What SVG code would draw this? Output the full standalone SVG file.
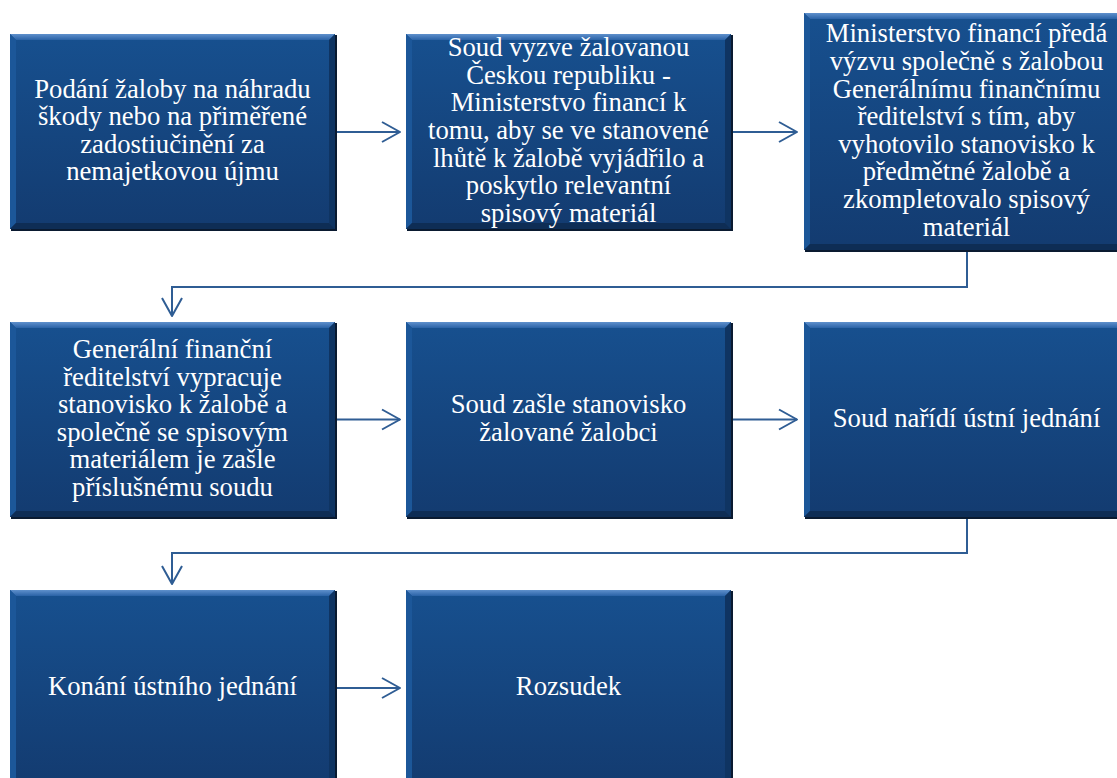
<svg xmlns="http://www.w3.org/2000/svg" width="1117" height="778" viewBox="0 0 1117 778">
<style>
.t{font-family:"Liberation Serif","Times New Roman",serif;font-size:26.7px;fill:#ffffff;text-anchor:middle}
.body{fill:url(#gBody)}
.shadow{fill:#0a1a30}
.bt{fill:url(#gTop)}
.bl{fill:#1c5799}
.br{fill:#0f3462}
.bb{fill:#0e2d55}
.conn{fill:none;stroke:#2f5d94;stroke-width:2;marker-end:url(#arr)}
</style>
<defs>
<linearGradient id="gBody" x1="0" y1="0" x2="0" y2="1">
<stop offset="0" stop-color="#17508f"/>
<stop offset="1" stop-color="#133b70"/>
</linearGradient>
<linearGradient id="gTop" x1="0" y1="0" x2="0" y2="1">
<stop offset="0" stop-color="#5f90cc"/>
<stop offset="1" stop-color="#2a62a6"/>
</linearGradient>
<marker id="arr" markerUnits="userSpaceOnUse" markerWidth="24" markerHeight="26" viewBox="-2 -2 24 26" refX="18" refY="10" orient="auto">
<path d="M0,0 L18,10 L0,20" fill="none" stroke="#2f5d94" stroke-width="2" stroke-linejoin="round"/>
</marker>
</defs>
<rect width="1117" height="778" fill="#ffffff"/>

<g id="connectors">
<path class="conn" d="M335,132 H400"/>
<path class="conn" d="M731,132 H797"/>
<path class="conn" d="M967,250 V287 H172 V316"/>
<path class="conn" d="M335,419.5 H400"/>
<path class="conn" d="M731,419.5 H797"/>
<path class="conn" d="M967,517 V553 H172 V584"/>
<path class="conn" d="M335,688 H400"/>
</g>

<g id="n1">
<rect class="shadow" x="11" y="35" width="326" height="196"/>
<rect class="body" x="10" y="34" width="325" height="195"/>
<polygon class="bt" points="10,34 335,34 329,40 16,40"/>
<polygon class="bl" points="10,34 16,40 16,223 10,229"/>
<polygon class="br" points="335,34 335,229 329,223 329,40"/>
<polygon class="bb" points="10,229 335,229 329,223 16,223"/>
<text class="t"><tspan x="172.5" y="97.6">Podání žaloby na náhradu</tspan><tspan x="172.5" y="125.2">škody nebo na přiměřené</tspan><tspan x="172.5" y="152.8">zadostiučinění za</tspan><tspan x="172.5" y="180.4">nemajetkovou újmu</tspan></text>
</g>

<g id="n2">
<rect class="shadow" x="407" y="35" width="326" height="196"/>
<rect class="body" x="406" y="34" width="325" height="195"/>
<polygon class="bt" points="406,34 731,34 725,40 412,40"/>
<polygon class="bl" points="406,34 412,40 412,223 406,229"/>
<polygon class="br" points="731,34 731,229 725,223 725,40"/>
<polygon class="bb" points="406,229 731,229 725,223 412,223"/>
<text class="t"><tspan x="568.5" y="56.2">Soud vyzve žalovanou</tspan><tspan x="568.5" y="83.8">Českou republiku -</tspan><tspan x="568.5" y="111.4">Ministerstvo financí k</tspan><tspan x="568.5" y="139">tomu, aby se ve stanovené</tspan><tspan x="568.5" y="166.6">lhůtě k žalobě vyjádřilo a</tspan><tspan x="568.5" y="194.2">poskytlo relevantní</tspan><tspan x="568.5" y="221.8">spisový materiál</tspan></text>
</g>

<g id="n3">
<rect class="shadow" x="805" y="14" width="326" height="238"/>
<rect class="body" x="804" y="13" width="325" height="237"/>
<polygon class="bt" points="804,13 1129,13 1123,19 810,19"/>
<polygon class="bl" points="804,13 810,19 810,244 804,250"/>
<polygon class="bb" points="804,250 1129,250 1123,244 810,244"/>
<text class="t"><tspan x="966.5" y="42.4">Ministerstvo financí předá</tspan><tspan x="966.5" y="70">výzvu společně s žalobou</tspan><tspan x="966.5" y="97.6">Generálnímu finančnímu</tspan><tspan x="966.5" y="125.2">ředitelství s tím, aby</tspan><tspan x="966.5" y="152.8">vyhotovilo stanovisko k</tspan><tspan x="966.5" y="180.4">předmětné žalobě a</tspan><tspan x="966.5" y="208">zkompletovalo spisový</tspan><tspan x="966.5" y="235.6">materiál</tspan></text>
</g>

<g id="n4">
<rect class="shadow" x="11" y="323" width="326" height="196"/>
<rect class="body" x="10" y="322" width="325" height="195"/>
<polygon class="bt" points="10,322 335,322 329,328 16,328"/>
<polygon class="bl" points="10,322 16,328 16,511 10,517"/>
<polygon class="br" points="335,322 335,517 329,511 329,328"/>
<polygon class="bb" points="10,517 335,517 329,511 16,511"/>
<text class="t"><tspan x="172.5" y="358">Generální finanční</tspan><tspan x="172.5" y="385.6">ředitelství vypracuje</tspan><tspan x="172.5" y="413.2">stanovisko k žalobě a</tspan><tspan x="172.5" y="440.8">společně se spisovým</tspan><tspan x="172.5" y="468.4">materiálem je zašle</tspan><tspan x="172.5" y="496">příslušnému soudu</tspan></text>
</g>

<g id="n5">
<rect class="shadow" x="407" y="323" width="326" height="196"/>
<rect class="body" x="406" y="322" width="325" height="195"/>
<polygon class="bt" points="406,322 731,322 725,328 412,328"/>
<polygon class="bl" points="406,322 412,328 412,511 406,517"/>
<polygon class="br" points="731,322 731,517 725,511 725,328"/>
<polygon class="bb" points="406,517 731,517 725,511 412,511"/>
<text class="t"><tspan x="568.5" y="413.2">Soud zašle stanovisko</tspan><tspan x="568.5" y="440.8">žalované žalobci</tspan></text>
</g>

<g id="n6">
<rect class="shadow" x="805" y="323" width="326" height="196"/>
<rect class="body" x="804" y="322" width="325" height="195"/>
<polygon class="bt" points="804,322 1129,322 1123,328 810,328"/>
<polygon class="bl" points="804,322 810,328 810,511 804,517"/>
<polygon class="bb" points="804,517 1129,517 1123,511 810,511"/>
<text class="t"><tspan x="966.5" y="427">Soud nařídí ústní jednání</tspan></text>
</g>

<g id="n7">
<rect class="shadow" x="11" y="591" width="326" height="196"/>
<rect class="body" x="10" y="590" width="325" height="195"/>
<polygon class="bt" points="10,590 335,590 329,596 16,596"/>
<polygon class="bl" points="10,590 16,596 16,779 10,785"/>
<polygon class="br" points="335,590 335,785 329,779 329,596"/>
<text class="t"><tspan x="172.5" y="695">Konání ústního jednání</tspan></text>
</g>

<g id="n8">
<rect class="shadow" x="407" y="591" width="326" height="196"/>
<rect class="body" x="406" y="590" width="325" height="195"/>
<polygon class="bt" points="406,590 731,590 725,596 412,596"/>
<polygon class="bl" points="406,590 412,596 412,779 406,785"/>
<polygon class="br" points="731,590 731,785 725,779 725,596"/>
<text class="t"><tspan x="568.5" y="695">Rozsudek</tspan></text>
</g>
</svg>
